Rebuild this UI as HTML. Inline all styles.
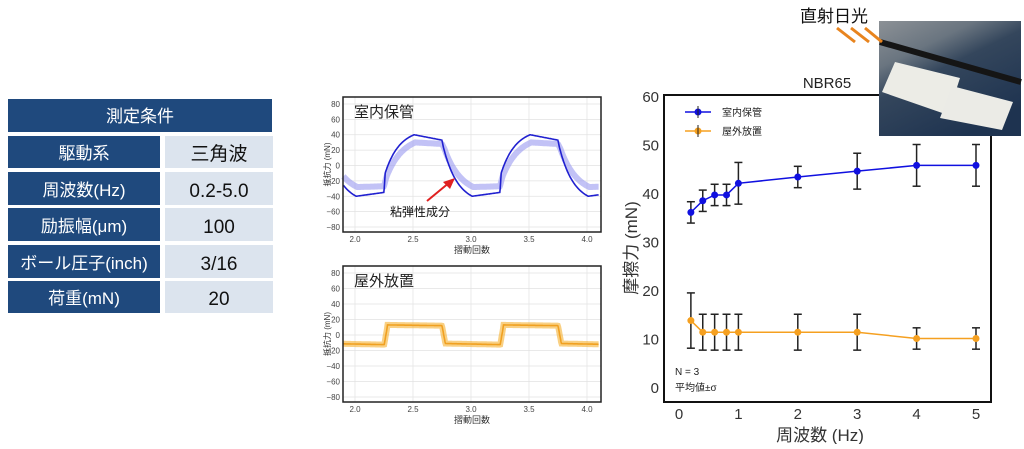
<!DOCTYPE html>
<html><head><meta charset="utf-8"><style>
body{margin:0;background:#fff;width:1024px;height:444px;overflow:hidden;font-family:"Liberation Sans","Noto Sans CJK JP",sans-serif}
</style></head><body>
<svg id="s" width="1024" height="444" xmlns="http://www.w3.org/2000/svg" font-family="Liberation Sans, Noto Sans CJK JP, sans-serif">
<g font-size="17" text-anchor="middle">
<rect x="8" y="99" width="264" height="33" fill="#1f497d"/>
<text x="140" y="122" fill="#fff">測定条件</text>
<rect x="8" y="136" width="152" height="32" fill="#1f497d"/><rect x="165" y="136" width="108" height="32" fill="#dce4ee"/>
<text x="84" y="159" fill="#fff">駆動系</text><text x="219" y="160" fill="#111" font-size="19">三角波</text>
<rect x="8" y="172" width="152" height="33" fill="#1f497d"/><rect x="165" y="172" width="108" height="33" fill="#dce4ee"/>
<text x="84" y="196" fill="#fff">周波数(Hz)</text><text x="219" y="197" fill="#111" font-size="19">0.2-5.0</text>
<rect x="8" y="208" width="152" height="33" fill="#1f497d"/><rect x="165" y="208" width="108" height="33" fill="#dce4ee"/>
<text x="84" y="232" fill="#fff">励振幅(μm)</text><text x="219" y="233" fill="#111" font-size="19">100</text>
<rect x="8" y="245" width="152" height="33" fill="#1f497d"/><rect x="165" y="245" width="108" height="33" fill="#dce4ee"/>
<text x="84" y="269" fill="#fff">ボール圧子(inch)</text><text x="219" y="270" fill="#111" font-size="19">3/16</text>
<rect x="8" y="281" width="152" height="32" fill="#1f497d"/><rect x="165" y="281" width="108" height="32" fill="#dce4ee"/>
<text x="84" y="304" fill="#fff">荷重(mN)</text><text x="219" y="305" fill="#111" font-size="19">20</text>
</g>
<g id="small"></g>
<g id="main"></g>
<defs><linearGradient id="pg" x1="0" y1="0" x2="0.6" y2="1"><stop offset="0" stop-color="#8c9196"/><stop offset="0.3" stop-color="#6a7580"/><stop offset="0.5" stop-color="#34465c"/><stop offset="1" stop-color="#1e3350"/></linearGradient></defs>
<rect x="879" y="21" width="142" height="115" fill="url(#pg)"/>
<path d="M880,42 L1021,82" stroke="#151515" stroke-width="6"/>
<polygon points="882,92 895,62 960,78 948,115" fill="#ecece6"/>
<polygon points="940,118 952,86 1013,102 1002,130" fill="#ebebe6"/>
<text x="834" y="22" font-size="17" text-anchor="middle" fill="#111">直射日光</text>
<g stroke="#e8841e" stroke-width="3" fill="none">
<line x1="837" y1="28" x2="855" y2="42"/><line x1="851" y1="28" x2="869" y2="42"/><line x1="865" y1="28" x2="882" y2="42"/>
</g>
</svg>
<script>
const S=document.getElementById('small'),M=document.getElementById('main');
let h='';
function panel(y0,y1,zero,sc,title,fn,col,light){
 const x0=343,x1=601;
 const X=v=>355+(v-2)*116, Y=v=>zero-v*sc;
 h+=`<rect x="${x0}" y="${y0}" width="${x1-x0}" height="${y1-y0}" fill="#fff"/>`;
 for(let v=-80;v<=80;v+=20){h+=`<line x1="${x0}" x2="${x1}" y1="${Y(v)}" y2="${Y(v)}" stroke="#e2e2e2" stroke-width="0.7"/><text x="${x0-3}" y="${Y(v)+3}" font-size="8" fill="#444" text-anchor="end">${v==0?'0':(v<0?'−'+(-v):v)}</text>`;}
 for(let v=2;v<=4;v+=0.5){h+=`<line y1="${y0}" y2="${y1}" x1="${X(v)}" x2="${X(v)}" stroke="#e2e2e2" stroke-width="0.7"/><text x="${X(v)}" y="${y1+10}" font-size="8" fill="#444" text-anchor="middle">${v.toFixed(1)}</text>`;}
 let p1='',p2='';
 for(let v=1.9;v<=4.1;v+=0.004){const a=fn(v,0),b=fn(v,1);p1+=(p1?'L':'M')+X(v).toFixed(1)+','+Y(a).toFixed(1);p2+=(p2?'L':'M')+X(v).toFixed(1)+','+Y(b).toFixed(1);}
 h+=`<path d="${p2}" stroke="${light}" stroke-width="6" fill="none" opacity="0.6"/>`;
 h+=`<path d="${p1}" stroke="${col}" stroke-width="1.6" fill="none"/>`;
 h+=`<rect x="${x0}" y="${y0}" width="${x1-x0}" height="${y1-y0}" fill="none" stroke="#222" stroke-width="1.5"/>`;
 h+=`<text x="354" y="${y0+20}" font-size="15" fill="#222">${title}</text>`;
 h+=`<text x="472" y="${y1+21}" font-size="9" fill="#333" text-anchor="middle">摺動回数</text>`;
 h+=`<text transform="translate(330,${(y0+y1)/2}) rotate(-90)" font-size="8" fill="#333" text-anchor="middle">抵抗力 (mN)</text>`;
}
function sat(u,k){return (1-Math.exp(-u*k))/(1-Math.exp(-0.25*k));}
function topf(v,k){let t=((v-2.25)%1+1)%1;
 if(k==0){
  if(t<0.01) return -35+25*t/0.01;
  if(t<0.26) return -10+50*sat(t-0.01,8);
  if(t<0.5) return 40-7*(t-0.26)/0.24;
  if(t<0.51) return 33-8*(t-0.5)/0.01;
  if(t<0.76) return 25-65*sat(t-0.51,8);
  return -40+5*(t-0.76)/0.24;
 } else {
  if(t<0.02) return -27+12*t/0.02;
  if(t<0.27) return -15+45*sat(t-0.02,7);
  if(t<0.5) return 30-2*(t-0.27)/0.23;
  if(t<0.52) return 28-6*(t-0.5)/0.02;
  if(t<0.77) return 22-50*sat(t-0.52,7);
  return -28+1*(t-0.77)/0.23;
 } }
function botf(v,k){let t=((v-2.25)%1+1)%1;
 if(t<0.03)return -14+26*t/0.03; if(t<0.5)return 13-2*(t-0.03); if(t<0.53)return 12-24*(t-0.5)/0.03; return -11-3*(t-0.53);}
panel(97,232,165.5,0.769,'室内保管',topf,'#2020d0','#9a9af0');
panel(266,402,335,0.775,'屋外放置',botf,'#f0a020','#f5b030');
h+=`<line x1="427" y1="201" x2="450" y2="182" stroke="#e02020" stroke-width="2"/><polygon points="455,178 443,182 450,189" fill="#e02020"/>`;
h+=`<text x="420" y="216" font-size="12" fill="#111" text-anchor="middle">粘弾性成分</text>`;
S.innerHTML=h;
let g='';const X=v=>679+59.4*v,Y=v=>387-4.85*v;
g+=`<text x="827" y="88" font-size="15" fill="#222" text-anchor="middle">NBR65</text>`;
for(let v=0;v<=60;v+=10)g+=`<text x="659" y="${Y(v)+6}" font-size="15" fill="#333" text-anchor="end">${v}</text>`;
for(let v=0;v<=5;v++)g+=`<text x="${X(v)}" y="419" font-size="15" fill="#333" text-anchor="middle">${v}</text>`;
g+=`<text x="820" y="441" font-size="17" fill="#333" text-anchor="middle">周波数 (Hz)</text>`;
g+=`<text transform="translate(637,248) rotate(-90)" font-size="17" fill="#333" text-anchor="middle">摩擦力 (mN)</text>`;
function series(d,c){let p='';d.forEach(([x,y,e])=>{g+=`<line x1="${X(x)}" x2="${X(x)}" y1="${Y(y-e)}" y2="${Y(y+e)}" stroke="#222" stroke-width="1.5"/><line x1="${X(x)-4}" x2="${X(x)+4}" y1="${Y(y-e)}" y2="${Y(y-e)}" stroke="#222" stroke-width="1.5"/><line x1="${X(x)-4}" x2="${X(x)+4}" y1="${Y(y+e)}" y2="${Y(y+e)}" stroke="#222" stroke-width="1.5"/>`;p+=(p?'L':'M')+X(x)+','+Y(y);});
 g+=`<path d="${p}" stroke="${c}" stroke-width="1.5" fill="none"/>`;d.forEach(([x,y])=>g+=`<circle cx="${X(x)}" cy="${Y(y)}" r="3.5" fill="${c}"/>`);}
series([[0.2,36,2.2],[0.4,38.4,2.2],[0.6,39.6,2.2],[0.8,39.6,2.2],[1,42,4.3],[2,43.3,2.2],[3,44.5,3.7],[4,45.7,4.3],[5,45.7,4.3]],'#1010e0');
series([[0.2,13.7,5.7],[0.4,11.3,3.7],[0.6,11.3,3.7],[0.8,11.3,3.7],[1,11.3,3.7],[2,11.3,3.7],[3,11.3,3.7],[4,10,2.2],[5,10,2.2]],'#f5a020');
g+=`<rect x="664" y="95" width="327" height="307" fill="none" stroke="#111" stroke-width="2"/>`;
g+=`<line x1="685" x2="711" y1="112" y2="112" stroke="#1010e0" stroke-width="1.5"/><circle cx="698" cy="112" r="3.5" fill="#1010e0"/><line x1="698" x2="698" y1="106" y2="118" stroke="#222"/>`;
g+=`<line x1="685" x2="711" y1="131" y2="131" stroke="#f5a020" stroke-width="1.5"/><circle cx="698" cy="131" r="3.5" fill="#f5a020"/><line x1="698" x2="698" y1="125" y2="137" stroke="#222"/>`;
g+=`<text x="722" y="116" font-size="10" fill="#222">室内保管</text><text x="722" y="135" font-size="10" fill="#222">屋外放置</text>`;
g+=`<text x="675" y="375" font-size="10" fill="#222">N = 3</text><text x="675" y="391" font-size="10" fill="#222">平均値±σ</text>`;
M.innerHTML=g;
</script>
</body></html>
